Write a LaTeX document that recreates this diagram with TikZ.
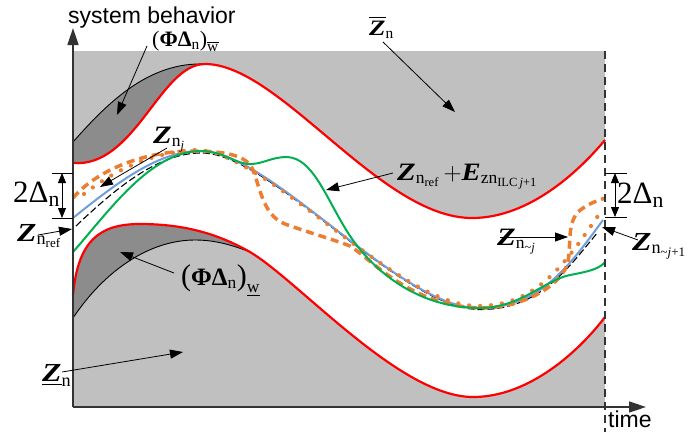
\RequirePackage{fix-cm}
\documentclass[tikz,border=0pt]{standalone}
\usepackage{amsmath}
\usepackage{graphicx}
\usepackage{fontspec}
\setmainfont{Liberation Serif}
\newfontfamily\arialf{Liberation Sans}
\usetikzlibrary{arrows.meta}
\definecolor{lgray}{HTML}{C0C0C0}
\definecolor{dgray}{HTML}{8C8C8C}
\definecolor{cred}{HTML}{FF0000}
\definecolor{cgreen}{HTML}{00B050}
\definecolor{cblue}{RGB}{112,158,220}
\definecolor{corange}{HTML}{ED7D31}
\definecolor{axisc}{HTML}{333333}
\newcommand{\BZ}{\textnormal{\bfseries\itshape\scalebox{1.22}[1]{Z}}}
\newcommand{\BE}{\textnormal{\bfseries\itshape\scalebox{1.15}[1]{E}}}
\newcommand{\tn}[1]{\textnormal{#1}}
\newcommand{\fs}[1]{\fontsize{#1}{#1}\selectfont}
\begin{document}
\begin{tikzpicture}[x=1pt,y=-1pt,
  lab/.style={inner sep=0pt, anchor=base west},
  ptr/.style={-{Triangle[length=13pt,width=9pt]}, line width=0.8pt, black},
  dbl/.style={{Triangle[length=10pt,width=8pt]}-{Triangle[length=10pt,width=8pt]}, line width=0.9pt},
  tick/.style={line width=0.9pt},
  redc/.style={cred, line width=2.2pt},
  blackc/.style={black, line width=0.9pt},
  axis/.style={axisc, line width=1.6pt, -{Triangle[length=17pt,width=11pt]}}]
\useasboundingbox (0,0) rectangle (697,432);
% paths
\def\upperred{(73,163) .. controls (135,168) and (160,64) .. (205,64) .. controls (280,64) and (380,218) .. (472,218) .. controls (530,218) and (580,170) .. (605,140)}
\def\lowerred{(73,295) .. controls (78,240) and (100,224) .. (140,224) .. controls (180,224) and (215,232) .. (250,252) .. controls (300,282) and (400,397) .. (473,397) .. controls (530,397) and (580,350) .. (605,317)}
\def\lowerredrev{(605,317) .. controls (580,350) and (530,397) .. (473,397) .. controls (400,397) and (300,282) .. (250,252) .. controls (215,232) and (180,224) .. (140,224) .. controls (100,224) and (78,240) .. (73,295)}
% background
\fill[lgray] (73,51) rectangle (605,407);
\fill[white] \upperred -- \lowerredrev -- cycle;
% dark regions
\fill[dgray] (73,142) .. controls (110,100) and (150,62) .. (205,64) .. controls (160,64) and (135,168) .. (73,163) -- cycle;
\begin{scope}
  \clip \lowerred -- (605,407) -- (73,407) -- cycle;
  \fill[dgray] (73,318) .. controls (105,270) and (150,240) .. (195,240) .. controls (215,240) and (232,245) .. (250,252) -- (250,150) -- (73,150) -- cycle;
\end{scope}
\draw[blackc] (73,142) .. controls (110,100) and (150,62) .. (205,64);
\draw[blackc] (73,318) .. controls (105,270) and (150,240) .. (195,240) .. controls (215,240) and (232,245) .. (250,252);
\draw[redc] \upperred;
\draw[redc] \lowerred;
% inner curves
\draw[black, line width=1.1pt, dash pattern=on 7pt off 3pt] (76,226) .. controls (121,183) and (161,153) .. (201,153) .. controls (271,152) and (401,311) .. (481,309.5) .. controls (540,309.5) and (568,268) .. (598,232);
\draw[cblue, line width=2pt] (73,218) .. controls (120,180) and (160,151) .. (200,151) .. controls (270,150) and (400,310) .. (480,308) .. controls (540,308) and (570,265) .. (603,220);
\draw[corange, line width=3.5pt, dash pattern=on 8pt off 5pt] (73,198) .. controls (95,172) and (140,152) .. (190,151) .. controls (225,151) and (245,155) .. (252,168) .. controls (260,185) and (262,215) .. (285,224) .. controls (310,233) and (335,240) .. (350,246) .. controls (370,258) and (410,306) .. (480,308) .. controls (525,308) and (560,285) .. (567,265) .. controls (572,250) and (566,225) .. (578,212) .. controls (588,203) and (600,200) .. (605,198);
\draw[corange, line width=4.2pt, line cap=round, dash pattern=on 0pt off 11pt] (84,194) .. controls (115,170) and (150,153) .. (195,150) .. controls (265,149) and (396,306) .. (478,306) .. controls (538,306) and (566,262) .. (600,213);
\draw[cgreen, line width=2pt] (73,252) .. controls (110,210) and (150,152) .. (200,151) .. controls (225,151) and (235,165) .. (252,164) .. controls (265,163) and (272,157) .. (287,157) .. controls (312,158) and (325,195) .. (345,228) .. controls (365,262) and (410,308) .. (480,308) .. controls (520,308) and (545,280) .. (570,275) .. controls (592,271) and (600,268) .. (605,262);
% dashed end line
\draw[axisc, line width=1.4pt, dash pattern=on 8pt off 5pt] (605,51) -- (605,432);
% axes
\coordinate (O) at (73,407);
\coordinate (ytop) at (73,28);
\coordinate (xend) at (646,407);
\draw[axis] (O) -- (ytop);
\draw[axis] (O) -- (xend);
\node[lab, font=\arialf\fs{23}] (sysb) at (68,23) {system behavior};
\node[lab, font=\arialf\fs{23}] (time) at (608,427) {time};
% 2 Delta left
\coordinate (lt1) at (52,173); \coordinate (lt2) at (73,173);
\coordinate (lb1) at (52,218); \coordinate (lb2) at (73,218);
\coordinate (la1) at (62,173); \coordinate (la2) at (62,218);
\draw[tick] (lt1) -- (lt2); \draw[tick] (lb1) -- (lb2);
\draw[dbl] (la1) -- (la2);
\node[lab, font=\fs{31}] (dl) at (13,202) {$\tn{2Δ}_{\tn{n}}$};
% 2 Delta right
\coordinate (rt1) at (605,173); \coordinate (rt2) at (627,173);
\coordinate (rb1) at (605,217); \coordinate (rb2) at (627,217);
\coordinate (ra1) at (615,173); \coordinate (ra2) at (615,217);
\draw[tick] (rt1) -- (rt2); \draw[tick] (rb1) -- (rb2);
\draw[dbl] (ra1) -- (ra2);
\node[lab, font=\fs{31}] (dr) at (617,203) {$\tn{2Δ}_{\tn{n}}$};
% labels
\node[lab, font=\fs{22}] (phiu) at (152,46) {$\tn{(}\tn{\bfseries ΦΔ}_{\tn{n}}\tn{)}_{\overline{\tn{w}}}$};
\node[lab, font=\fs{22}] (zbar) at (369,35) {$\overline{\BZ}_{\tn{n}}$};
\node[lab, font=\fs{25}] (znj) at (153,143) {$\BZ_{\tn{n}_{\tn{\itshape j}}}$};
\node[lab, font=\fs{26}] (znref) at (17,241) {$\BZ_{\tn{n}_{\tn{ref}}}$};
\node[lab, font=\fs{25}] (phil) at (181,285) {$\tn{\fs{30}(}\tn{\bfseries ΦΔ}_{\tn{n}}\tn{\fs{30})}_{\underline{\tn{w}}}$};
\node[lab, font=\fs{26}] (zlow) at (42,381) {$\underline{\BZ}_{\tn{n}}$};
\node[lab, font=\fs{25}] (zplus) at (397,180) {$\BZ_{\tn{n}_{\tn{ref}}}\,{+}\BE_{\tn{zn}_{\tn{ILC\,\itshape j\upshape +1}}}$};
\node[lab, font=\fs{25}] (znt) at (497,245) {$\BZ_{\tn{n}_{\tn{\textasciitilde\itshape j}}}$};
\node[lab, font=\fs{26}] (zntp) at (632,250) {$\BZ_{\tn{n}_{\tn{\textasciitilde\itshape j\upshape +1}}}$};
% pointer arrows
\coordinate (a1s) at (147,46); \coordinate (a1e) at (117,115);
\coordinate (a2s) at (383,42); \coordinate (a2e) at (455,112);
\coordinate (a3s) at (167,148); \coordinate (a3e) at (100,187);
\coordinate (a4s) at (38,235); \coordinate (a4e) at (72,229);
\coordinate (a5s) at (174,273); \coordinate (a5e) at (120,252);
\coordinate (a6s) at (62,372); \coordinate (a6e) at (183,352);
\coordinate (a7s) at (393,173); \coordinate (a7e) at (326,190);
\coordinate (a8s) at (500,237); \coordinate (a8e) at (568,237);
\coordinate (a9s) at (638,240); \coordinate (a9e) at (602,227);
\draw[ptr] (a1s) -- (a1e);
\draw[ptr] (a2s) -- (a2e);
\draw[ptr] (a3s) -- (a3e);
\draw[ptr] (a4s) -- (a4e);
\draw[ptr] (a5s) -- (a5e);
\draw[ptr] (a6s) -- (a6e);
\draw[ptr] (a7s) -- (a7e);
\draw[ptr] (a8s) -- (a8e);
\draw[ptr] (a9s) -- (a9e);
\end{tikzpicture}
\end{document}
